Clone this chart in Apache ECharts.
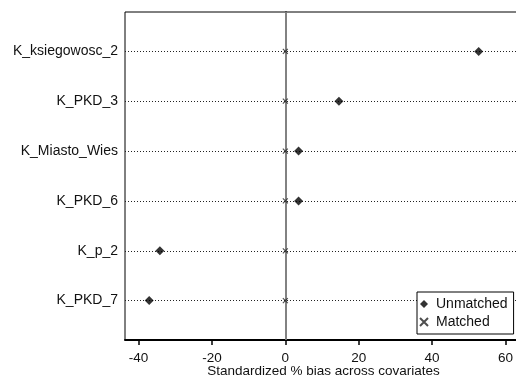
<!DOCTYPE html>
<html>
<head>
<meta charset="utf-8">
<script src="https://cdn.jsdelivr.net/npm/echarts@6/dist/echarts.min.js"></script>
<style>html,body{margin:0;padding:0;background:#fff;}#c{width:516px;height:375px;}</style>
</head>
<body>
<div id="c"></div>
<script>
const categories = ['K_ksiegowosc_2', 'K_PKD_3', 'K_Miasto_Wies', 'K_PKD_6', 'K_p_2', 'K_PKD_7'];
const unmatched = [52.7, 14.6, 3.6, 3.6, -34.2, -37.1];
const matched = [0, 0, 0, 0, 0, 0];
const xTicks = [-40, -20, 0, 20, 40, 60];
const xTitle = 'Standardized % bias across covariates';

const rows = categories.map((c, i) => i + 1);
const FONT = 'Liberation Sans, Arial, sans-serif';
const xPath = 'path://M0,0L10,10M10,0L0,10';

const chart = echarts.init(document.getElementById('c'), null, {renderer: 'canvas'});
chart.setOption({
  animation: false,
  backgroundColor: '#fff',
  grid: {left: 125, top: 12, right: -6, bottom: 35, outerBoundsMode: 'none', containLabel: false,
    show: true, borderColor: '#000', borderWidth: 1, backgroundColor: 'transparent'},
  xAxis: {
    type: 'value', min: -43.7, max: 64.5,
    name: xTitle, nameLocation: 'middle', nameGap: 24, nameMoveOverlap: false,
    nameTextStyle: {fontFamily: FONT, fontSize: 13.5, color: '#111'},
    axisLine: {show: true, lineStyle: {color: '#000', width: 2}},
    axisTick: {show: true, customValues: xTicks, length: 5, lineStyle: {color: '#000', width: 1.5}},
    axisLabel: {customValues: xTicks, margin: 11, fontFamily: FONT, fontSize: 13.5, color: '#111'},
    splitLine: {show: false}
  },
  yAxis: {
    type: 'value', inverse: true, min: 0.21, max: 6.79,
    axisLine: {show: true, lineStyle: {color: '#000', width: 1.5}},
    axisTick: {show: false},
    axisLabel: {customValues: rows, margin: 7, fontFamily: FONT, fontSize: 14, color: '#111',
      formatter: v => categories[Math.round(v) - 1] || ''},
    splitLine: {show: false}
  },
  legend: {
    data: ['Unmatched', 'Matched'],
    orient: 'vertical', left: 417, top: 292, z: 20,
    padding: [5, 6, 5, 2], itemGap: 4, itemWidth: 8, itemHeight: 8,
    borderColor: '#000', borderWidth: 1, backgroundColor: '#fff',
    textStyle: {fontFamily: FONT, fontSize: 14, color: '#111', padding: [0, 0, 0, 3]},
    selectedMode: false
  },
  series: [
    {
      type: 'scatter', name: 'guides', data: [], z: 1, silent: true,
      markLine: {
        silent: true, symbol: 'none', label: {show: false}, z: 1,
        lineStyle: {color: '#222', type: [1, 2], width: 1},
        data: rows.map(r => ({yAxis: r}))
      }
    },
    {
      type: 'scatter', name: 'zero', data: [], z: 1, silent: true,
      markLine: {
        silent: true, symbol: 'none', label: {show: false}, z: 1,
        lineStyle: {color: '#999', type: 'solid', width: 1.5},
        data: [{xAxis: 0}]
      }
    },
    {
      type: 'scatter', name: 'Matched', z: 3,
      symbol: xPath, symbolSize: 5,
      itemStyle: {color: 'rgba(0,0,0,0)', borderColor: '#222', borderWidth: 1.1},
      data: matched.map((v, i) => [v, rows[i]])
    },
    {
      type: 'scatter', name: 'Unmatched', z: 4,
      symbol: 'diamond', symbolSize: 9,
      itemStyle: {color: '#000'},
      data: unmatched.map((v, i) => [v, rows[i]])
    }
  ]
});
</script>
</body>
</html>
